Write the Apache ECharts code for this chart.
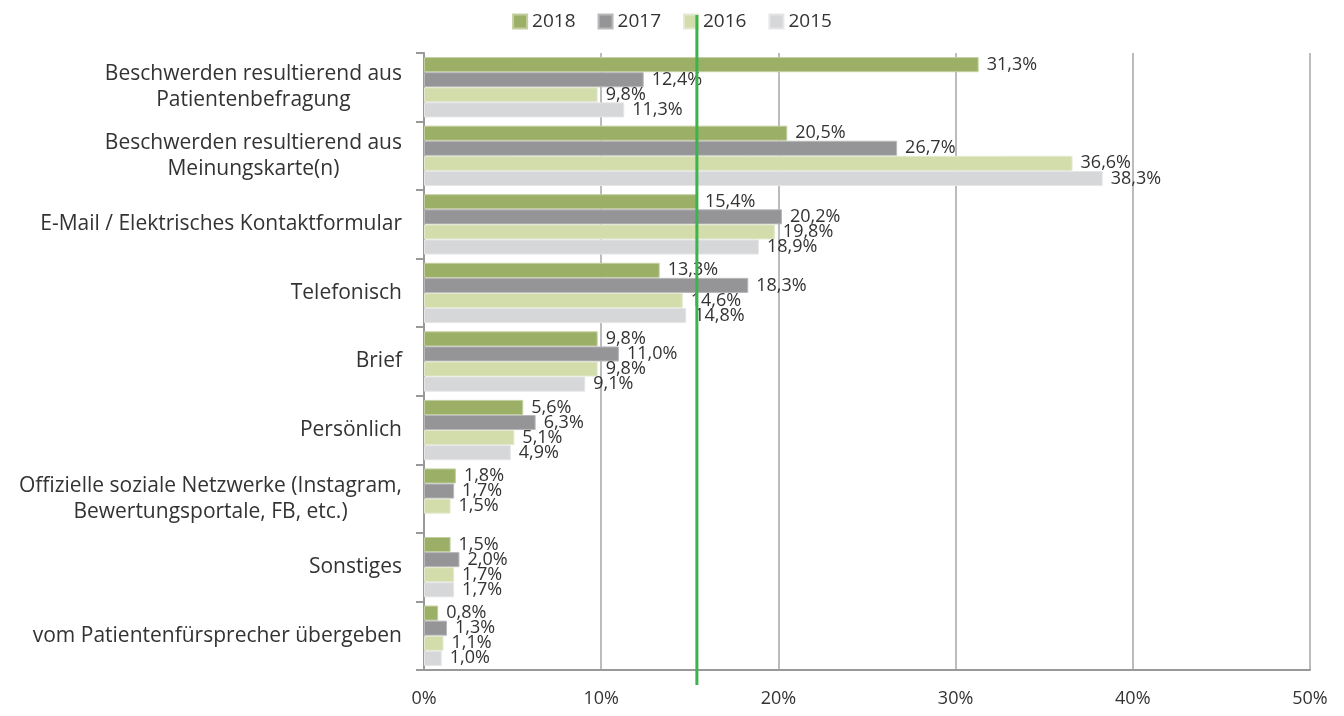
<!DOCTYPE html>
<html>
<head>
<meta charset="utf-8">
<script src="https://cdn.jsdelivr.net/npm/echarts@6/dist/echarts.min.js"></script>
<style>
  html, body { margin: 0; padding: 0; background: #fff; }
  #chart { width: 1344px; height: 716px; }
</style>
</head>
<body>
<div id="chart"></div>
<script>
const categories = [
  'Beschwerden resultierend aus\nPatientenbefragung',
  'Beschwerden resultierend aus\nMeinungskarte(n)',
  'E-Mail / Elektrisches Kontaktformular',
  'Telefonisch',
  'Brief',
  'Persönlich',
  'Offizielle soziale Netzwerke (Instagram,\nBewertungsportale, FB, etc.)',
  'Sonstiges',
  'vom Patientenfürsprecher übergeben'
];
const years = ['2018', '2017', '2016', '2015'];
const values2018 = [31.3, 20.5, 15.4, 13.3, 9.8, 5.6, 1.8, 1.5, 0.8];
const values2017 = [12.4, 26.7, 20.2, 18.3, 11.0, 6.3, 1.7, 2.0, 1.3];
const values2016 = [9.8, 36.6, 19.8, 14.6, 9.8, 5.1, 1.5, 1.7, 1.1];
const values2015 = [11.3, 38.3, 18.9, 14.8, 9.1, 4.9, null, 1.7, 1.0];
const xTicks = [0, 10, 20, 30, 40, 50];
const refValue = 15.4; // green reference line

const colors = ['#9caf67', '#959597', '#d2ddab', '#d6d7d9'];
const borders = ['#c3cfa0', '#b9b9bb', '#e3ead0', '#e6e6e8'];
const font = 'Open Sans';

const chart = echarts.init(document.getElementById('chart'));

const seriesData = [values2018, values2017, values2016, values2015];

chart.setOption({
  animation: false,
  textStyle: { fontFamily: font },
  legend: {
    top: 7,
    left: 'center',
    itemWidth: 14,
    itemHeight: 14,
    itemGap: 22,
    icon: 'rect',
    textStyle: { fontSize: 19, color: '#333', fontFamily: font },
    data: years
  },
  grid: { left: 424, right: 34, top: 53, bottom: 46 },
  xAxis: {
    type: 'value',
    min: xTicks[0],
    max: xTicks[xTicks.length - 1],
    interval: 10,
    axisLine: { show: true, lineStyle: { color: '#999', width: 2 } },
    axisTick: { show: false },
    splitLine: { show: true, lineStyle: { color: '#a6a6a6', width: 1.5 } },
    axisLabel: {
      fontSize: 18,
      color: '#333',
      margin: 20,
      formatter: v => v + '%'
    }
  },
  yAxis: {
    type: 'category',
    inverse: true,
    data: categories,
    axisLine: { show: true, lineStyle: { color: '#999', width: 2 } },
    axisTick: { show: true, length: 8, lineStyle: { color: '#999', width: 2 } },
    axisLabel: {
      fontSize: 21,
      color: '#333',
      margin: 22,
      lineHeight: 26,
      formatter: v => v.split('\n').map(l => '{c|' + l + '}').join('\n'),
      rich: { c: { align: 'center', fontSize: 21, lineHeight: 26, color: '#333', fontFamily: font } }
    }
  },
  series: years.map((y, i) => ({
    name: y,
    type: 'bar',
    data: seriesData[i],
    barGap: '0%',
    barCategoryGap: '12%',
    itemStyle: { color: colors[i], borderColor: borders[i], borderWidth: 1 },
    label: {
      show: true,
      position: 'right',
      distance: 8,
      fontSize: 18,
      color: '#333',
      fontFamily: font,
      formatter: p => p.value.toFixed(1).replace('.', ',') + '%'
    }
  }))
});

// green reference line drawn through the chart's own x scale, extended past the grid
const rx = chart.convertToPixel({ xAxisIndex: 0 }, refValue);
chart.setOption({
  graphic: [{
    type: 'line',
    z: 100,
    shape: { x1: rx, y1: 15, x2: rx, y2: 685 },
    style: { stroke: '#3cb44b', lineWidth: 3 }
  }]
});
</script>
</body>
</html>
